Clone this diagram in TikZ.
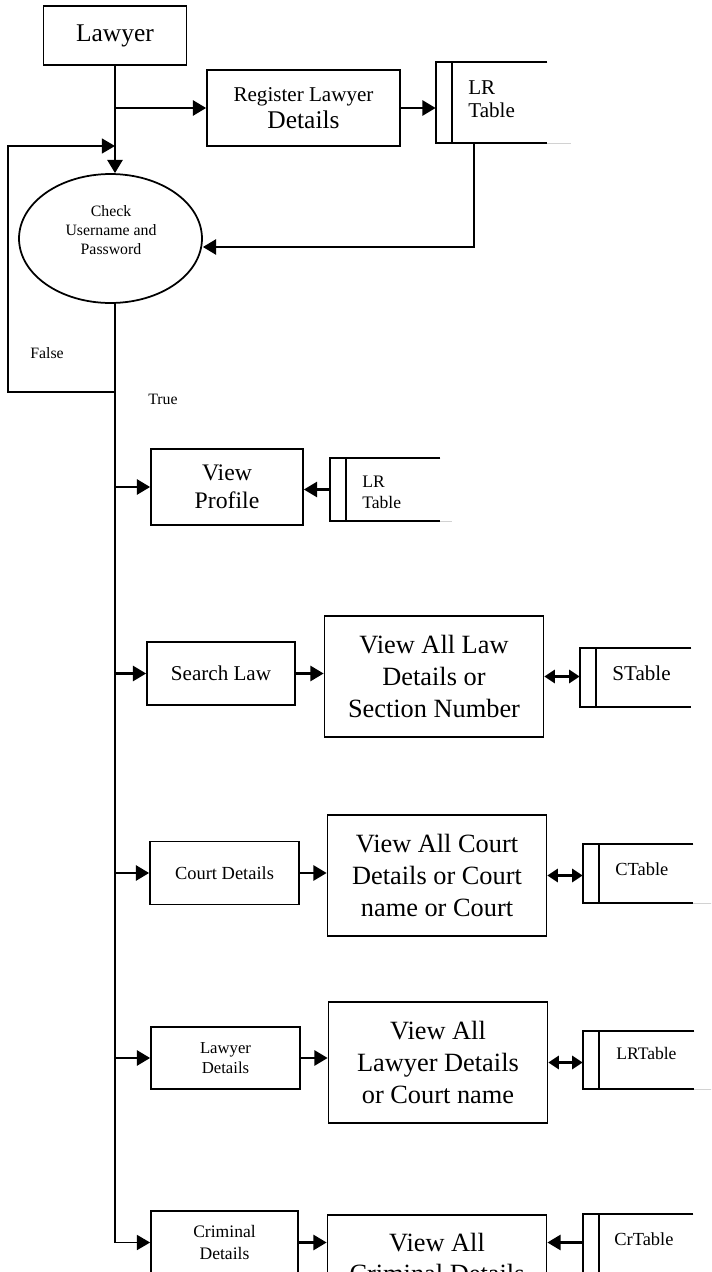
\documentclass[tikz,border=0pt]{standalone}
\usepackage{fontspec}
\setmainfont{Liberation Serif}
\usepackage{tikz}
\usetikzlibrary{shapes.geometric, arrows.meta, calc}

\begin{document}
\begin{tikzpicture}[x=0.02cm, y=-0.02cm,
    proc/.style={draw, line width=1pt, inner sep=2pt, align=center},
    viewbox/.style={proc, minimum width=4.38cm, minimum height=2.42cm,
      font=\fontsize{15}{18}\selectfont},
    subbox/.style={proc, minimum width=2.98cm, minimum height=1.26cm},
    store/.style={inner sep=0pt, minimum width=2.2cm, minimum height=1.18cm},
    storetext/.style={anchor=west, inner sep=0pt, align=left},
    wire/.style={line width=1pt},
    tip/.style={-{Triangle[length=7.5pt,width=8.5pt]}},
    flow/.style={line width=1.5pt, tip},
    both/.style={line width=1.5pt,
      {Triangle[length=6pt,width=7.5pt]}-{Triangle[length=6pt,width=7.5pt]}},
    fadeline/.style={draw=gray!35, line width=0.6pt}]
    \useasboundingbox (0,0) rectangle (711,1272);
    \clip (0,0) rectangle (711,1272);

    % login part
    \node[proc, minimum width=2.86cm, minimum height=1.18cm,
      font=\fontsize{14.5}{16}\selectfont] (lawyer) at (115,35.5) {Lawyer};
    \node[proc, minimum width=3.86cm, minimum height=1.52cm,
      font=\fontsize{14.5}{15}\selectfont] (reg) at (303.5,108)
      {{\fontsize{12}{14}\selectfont Register Lawyer}\\Details};
    \node[store, minimum width=2.22cm, minimum height=1.62cm] (lrtop) at (491.5,102.5) {};
    \node[storetext, font=\fontsize{12}{13}\selectfont] (lrtoptext) at (468,99.5) {LR\\Table};
    \node[draw, ellipse, line width=1pt, minimum width=3.66cm, minimum height=2.58cm,
      inner sep=0pt] (chk) at (110.5,238.5) {};
    \node[align=center, inner sep=0pt, font=\fontsize{9}{10.8}\selectfont]
      (chktext) at (111,230) {Check\\Username and\\Password};
    \node[font=\fontsize{9}{10}\selectfont] (falselbl) at (47,353) {False};
    \node[font=\fontsize{9}{10}\selectfont] (truelbl) at (163,399) {True};

    % after login
    \node[proc, minimum width=3.04cm, minimum height=1.52cm,
      font=\fontsize{13.5}{16}\selectfont] (prof) at (227,487) {View\\Profile};
    \node[store, minimum width=2.2cm, minimum height=1.26cm] (lrprof) at (385,489.5) {};
    \node[storetext, font=\fontsize{10}{12}\selectfont] (lrproftext) at (362,492) {LR\\Table};

    \node[subbox, minimum width=2.96cm, font=\fontsize{12}{14}\selectfont]
      (slaw) at (221,673.5) {Search Law};
    \node[viewbox] (vlaw) at (434,676.5) {View All Law\\Details or\\Section Number};
    \node[store, minimum width=2.22cm] (stab) at (635.5,677.5) {};
    \node[storetext, font=\fontsize{12}{14}\selectfont] (stabtext) at (612,673) {STable};

    \node[subbox, font=\fontsize{10.5}{12}\selectfont]
      (court) at (224.5,873) {Court Details};
    \node[viewbox] (vcourt) at (437,875.5) {View All Court\\Details or Court\\name or Court};
    \node[store] (ctab) at (638,873.5) {};
    \node[storetext, font=\fontsize{10.5}{12}\selectfont] (ctabtext) at (615,869) {CTable};

    \node[subbox, minimum height=1.24cm, font=\fontsize{9.5}{11.5}\selectfont]
      (lawd) at (225.5,1058) {Lawyer\\Details};
    \node[viewbox] (vlawd) at (438,1062.5) {View All\\Lawyer Details\\or Court name};
    \node[store, minimum width=2.22cm, minimum height=1.16cm] (lrtab) at (638.5,1060) {};
    \node[storetext, font=\fontsize{10}{12}\selectfont] (lrtabtext) at (616,1053) {LRTable};

    \node[subbox, minimum width=2.94cm, font=\fontsize{10}{12}\selectfont]
      (crim) at (224.5,1242.5) {Criminal\\Details};
    \node[viewbox, minimum height=1.72cm] (vcrim) at (437,1258) {View All\\Criminal Details};
    \node[store] (crtab) at (638,1243.5) {};
    \node[storetext, font=\fontsize{10.5}{12}\selectfont] (crtabtext) at (614,1239) {CrTable};

    % data stores
    \foreach \s in {lrtop,lrprof,stab,ctab,lrtab,crtab}{
      \draw[line width=1pt] (\s.north east) -- (\s.north west)
        -- (\s.south west) -- (\s.south east);
      \draw[line width=1pt] ([xshift=0.32cm]\s.north west) -- ([xshift=0.32cm]\s.south west);
    }
    \draw[fadeline] (lrtop.south east) -- ++(24,0);
    \draw[fadeline] (lrprof.south east) -- ++(12,0);
    \draw[fadeline] (ctab.south east) -- ++(20,0);
    \draw[fadeline] (lrtab.south east) -- ++(20,0);

    % connectors
    \coordinate (trunk) at (chk.south -| lawyer.south);
    \coordinate (back) at (474,247);
    \coordinate (fleft) at (8,392);
    \coordinate (ftop) at (8,146);
    \draw[flow] (lawyer.south) -- (lawyer.south |- chk.north);
    \draw[flow] (lawyer.south |- reg.west) -- (reg.west);
    \draw[flow] (reg.east) -- (reg.east -| lrtop.west);
    \draw[flow] (lrtop.south -| back) -- (back) -- (back -| chk.east);
    \draw[wire, tip] (trunk |- fleft) -- (fleft) -- (ftop) -- (ftop -| trunk);
    \draw[wire, tip] (trunk) |- (crim.west);
    \foreach \b in {prof,slaw,court,lawd}
      \draw[flow] (trunk |- \b.west) -- (\b.west);
    \draw[flow] (lrprof.west) -- (lrprof.west -| prof.east);
    \foreach \a/\b in {slaw/vlaw,court/vcourt,lawd/vlawd,crim/vcrim}
      \draw[flow] (\a.east) -- (\a.east -| \b.west);
    \foreach \a/\b in {vlaw/stab,vcourt/ctab,vlawd/lrtab}
      \draw[both] (\a.east) -- (\a.east -| \b.west);
    \draw[flow] (crim.east -| crtab.west) -- (crim.east -| vcrim.east);
  \end{tikzpicture}
\end{document}
